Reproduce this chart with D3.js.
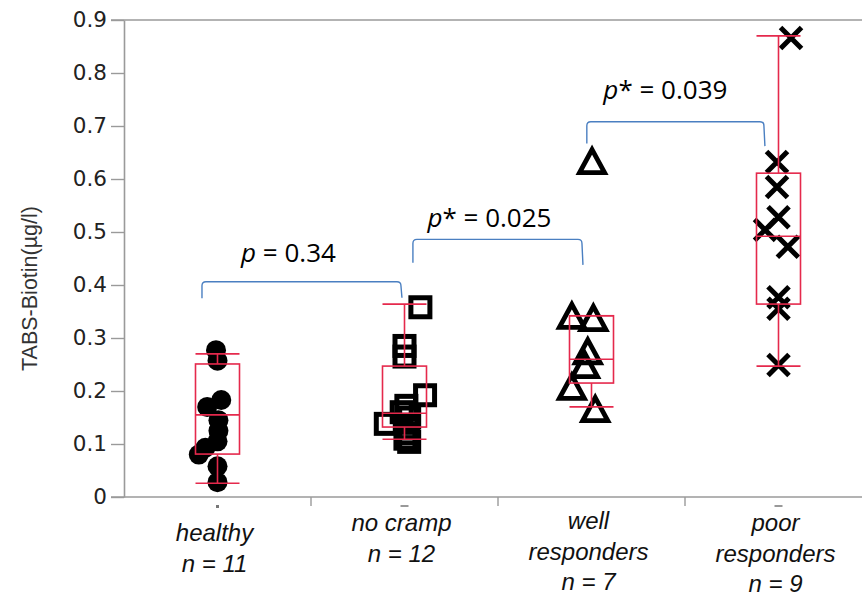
<!DOCTYPE html>
<html>
<head>
<meta charset="utf-8">
<script src="https://cdn.jsdelivr.net/npm/d3@7"></script>
<style>
  body { margin: 0; background: #fff; }
  svg { display: block; }
</style>
</head>
<body>
<svg id="chart" width="862" height="598"></svg>
<script>
// ---- data ----
const categories = ["healthy", "no cramp", "well", "poor"];
const categoryLines = [
  ["healthy", "n = 11"],
  ["no cramp", "n = 12"],
  ["well", "responders", "n = 7"],
  ["poor", "responders", "n = 9"]
];
const markerShapes = ["circle", "square", "triangle", "cross"];

// individual values per group (µg/l)
const healthyValues = [0.277, 0.257, 0.183, 0.170, 0.145, 0.125, 0.105, 0.093, 0.080, 0.058, 0.028];
const noCrampValues = [0.358, 0.285, 0.265, 0.192, 0.172, 0.160, 0.150, 0.138, 0.130, 0.120, 0.110, 0.104];
const wellValues = [0.632, 0.340, 0.336, 0.273, 0.247, 0.206, 0.164];
const poorValues = [0.866, 0.632, 0.585, 0.528, 0.504, 0.472, 0.377, 0.355, 0.249];

// horizontal jitter of each point, as a fraction of the category width
const healthyJitter = [-0.008, 0, 0.02, -0.055, 0.005, 0.005, 0, -0.065, -0.1, 0, 0];
const noCrampJitter = [0.085, 0, 0, 0.11, 0.01, -0.015, 0.025, -0.1, 0.015, 0.02, 0.005, 0.025];
const wellJitter = [0.003, -0.105, 0.01, -0.02, -0.035, -0.105, 0.02];
const poorJitter = [0.067, -0.008, -0.008, 0, -0.072, 0.05, 0, 0, 0];

// box plot statistics
const whiskerLow = [0.026, 0.109, 0.170, 0.247];
const quartile1 = [0.081, 0.132, 0.215, 0.364];
const medians = [0.155, 0.158, 0.260, 0.492];
const quartile3 = [0.251, 0.247, 0.342, 0.611];
const whiskerHigh = [0.270, 0.364, 0.342, 0.870];

// significance brackets
const bracketFrom = ["healthy", "no cramp", "well"];
const bracketTo = ["no cramp", "well", "poor"];
const bracketTop = [0.406, 0.486, 0.708];
const bracketLegLeft = [0.375, 0.442, 0.667];
const bracketLegRight = [0.376, 0.438, 0.662];
const pStar = ["", "*", "*"];
const pValues = ["0.34", "0.025", "0.039"];

const yTicks = [0, 0.1, 0.2, 0.3, 0.4, 0.5, 0.6, 0.7, 0.8, 0.9];

// ---- layout ----
const svg = d3.select("#chart");
const width = 862;
const plotLeft = 124, plotTop = 20, plotBottom = 497;

const x = d3.scaleBand().domain(categories).range([plotLeft, 872]).paddingInner(0).paddingOuter(0);
const y = d3.scaleLinear().domain([0, 0.9]).range([plotBottom, plotTop]);
const bw = x.bandwidth();
const boxW = 44;
const red = "#e5294c";
const blue = "#4a7fc1";

const groups = [
  { cat: "healthy", vals: healthyValues, jit: healthyJitter },
  { cat: "no cramp", vals: noCrampValues, jit: noCrampJitter },
  { cat: "well", vals: wellValues, jit: wellJitter },
  { cat: "poor", vals: poorValues, jit: poorJitter }
];

// Frame: top line and bottom axis line
svg.append("line")
  .attr("x1", 111).attr("x2", width)
  .attr("y1", y(0.9)).attr("y2", y(0.9))
  .attr("stroke", "#9a9a9a").attr("stroke-width", 1.6);

svg.append("line")
  .attr("x1", 111).attr("x2", width)
  .attr("y1", y(0)).attr("y2", y(0))
  .attr("stroke", "#9a9a9a").attr("stroke-width", 1.6);

// Y axis
const yAxis = d3.axisLeft(y)
  .tickValues(yTicks)
  .tickSize(13)
  .tickSizeOuter(0)
  .tickPadding(4)
  .tickFormat(d => d === 0 ? "0" : d3.format(".1f")(d));

const gy = svg.append("g")
  .attr("transform", `translate(${plotLeft},0)`)
  .call(yAxis);
gy.select(".domain").attr("stroke", "#9a9a9a").attr("stroke-width", 1.6);
gy.selectAll(".tick line").attr("stroke", "#9a9a9a").attr("stroke-width", 1.4);
gy.selectAll(".tick text")
  .attr("fill", "#222")
  .attr("font-family", "'DejaVu Sans', Verdana, sans-serif")
  .attr("font-size", 21.5);

// Y title
svg.append("text")
  .attr("transform", `translate(37,${(plotTop + plotBottom) / 2 + 30}) rotate(-90)`)
  .attr("text-anchor", "middle")
  .attr("font-family", "'Liberation Sans', Arial, sans-serif")
  .attr("font-size", 21.5)
  .attr("fill", "#333")
  .text("TABS-Biotin(µg/l)");

// Category separator ticks below the axis
svg.append("g")
  .selectAll("line")
  .data(categories.slice(1))
  .join("line")
    .attr("x1", d => x(d)).attr("x2", d => x(d))
    .attr("y1", plotBottom).attr("y2", plotBottom + 9)
    .attr("stroke", "#9a9a9a").attr("stroke-width", 1.4);

// small stray marks under the axis
svg.append("g")
  .selectAll("line")
  .data(["no cramp", "poor"])
  .join("line")
    .attr("x1", d => x(d) + bw / 2 - 4).attr("x2", d => x(d) + bw / 2 + 4)
    .attr("y1", plotBottom + 9).attr("y2", plotBottom + 9)
    .attr("stroke", "#777").attr("stroke-width", 1.5);
svg.append("rect")
  .attr("x", x("healthy") + bw / 2 - 1.5).attr("y", plotBottom + 8)
  .attr("width", 3).attr("height", 3).attr("fill", "#777");

// Category labels
const catLabel = svg.append("g")
  .attr("font-family", "'Liberation Sans', Arial, sans-serif")
  .attr("font-style", "italic")
  .attr("font-size", 24)
  .attr("fill", "#111")
  .attr("text-anchor", "middle");
const labelBase = [541, 531, 529, 531];
categories.forEach((c, i) => {
  const t = catLabel.append("text")
    .attr("x", x(c) + bw / 2 - 3)
    .attr("y", labelBase[i]);
  categoryLines[i].forEach((ln, j) => {
    t.append("tspan")
      .attr("x", x(c) + bw / 2 - 3)
      .attr("dy", j === 0 ? 0 : 30.5)
      .text(ln);
  });
});

// Points
const pts = svg.append("g");
groups.forEach((g, gi) => {
  const cx = x(g.cat) + bw / 2;
  const shape = markerShapes[gi];
  g.vals.forEach((v, k) => {
    const px = cx + g.jit[k] * bw;
    const py = y(v);
    if (shape === "circle") {
      pts.append("circle").attr("cx", px).attr("cy", py).attr("r", 10).attr("fill", "#000");
    } else if (shape === "square") {
      pts.append("rect")
        .attr("x", px - 9.5).attr("y", py - 9.5).attr("width", 19).attr("height", 19)
        .attr("fill", "none").attr("stroke", "#000").attr("stroke-width", 5);
    } else if (shape === "triangle") {
      const s = 12.5;
      pts.append("path")
        .attr("d", `M${px},${py - s}L${px + s},${py + s * 0.85}L${px - s},${py + s * 0.85}Z`)
        .attr("fill", "none").attr("stroke", "#000").attr("stroke-width", 4.8)
        .attr("stroke-linejoin", "miter");
    } else {
      const s = 10.5;
      pts.append("path")
        .attr("d", `M${px - s},${py - s}L${px + s},${py + s}M${px + s},${py - s}L${px - s},${py + s}`)
        .attr("fill", "none").attr("stroke", "#000").attr("stroke-width", 5);
    }
  });
});

// Boxes
const boxes = svg.append("g")
  .attr("stroke", red).attr("stroke-width", 1.6).attr("fill", "none");
categories.forEach((c, i) => {
  const cx = x(c) + bw / 2;
  boxes.append("rect")
    .attr("x", cx - boxW / 2).attr("y", y(quartile3[i]))
    .attr("width", boxW).attr("height", y(quartile1[i]) - y(quartile3[i]));
  boxes.append("line")
    .attr("x1", cx - boxW / 2).attr("x2", cx + boxW / 2)
    .attr("y1", y(medians[i])).attr("y2", y(medians[i]));
  // whiskers
  boxes.append("line")
    .attr("x1", cx).attr("x2", cx)
    .attr("y1", y(quartile3[i])).attr("y2", y(whiskerHigh[i]));
  boxes.append("line")
    .attr("x1", cx).attr("x2", cx)
    .attr("y1", y(quartile1[i])).attr("y2", y(whiskerLow[i]));
  boxes.append("line")
    .attr("x1", cx - boxW / 2).attr("x2", cx + boxW / 2)
    .attr("y1", y(whiskerHigh[i])).attr("y2", y(whiskerHigh[i]));
  boxes.append("line")
    .attr("x1", cx - boxW / 2).attr("x2", cx + boxW / 2)
    .attr("y1", y(whiskerLow[i])).attr("y2", y(whiskerLow[i]));
});

// Significance brackets
const legOffsetL = [-0.083, 0.045, -0.025];   // fraction of band width from centre
const legOffsetR = [-0.019, -0.051, -0.078];
const labelShift = [-13, -8, -10];
const labelRise = [20, 12, 23];
const br = svg.append("g");
bracketFrom.forEach((f, i) => {
  const x1 = x(f) + bw / 2 + legOffsetL[i] * bw;
  const x2 = x(bracketTo[i]) + bw / 2 + legOffsetR[i] * bw;
  const yt = y(bracketTop[i]);
  const r = 4;
  const path = d3.path();
  path.moveTo(x1, y(bracketLegLeft[i]));
  path.lineTo(x1, yt + r);
  path.quadraticCurveTo(x1, yt, x1 + r, yt);
  path.lineTo(x2 - r, yt);
  path.quadraticCurveTo(x2, yt, x2, yt + r);
  path.lineTo(x2 + 1, y(bracketLegRight[i]));
  br.append("path")
    .attr("d", path.toString())
    .attr("fill", "none").attr("stroke", blue).attr("stroke-width", 1.4);

  const t = br.append("text")
    .attr("x", (x1 + x2) / 2 + labelShift[i])
    .attr("y", yt - labelRise[i])
    .attr("text-anchor", "middle")
    .attr("font-family", "'Open Sans', sans-serif")
    .attr("font-size", 26)
    .attr("fill", "#000");
  t.append("tspan").attr("font-style", "italic").text("p");
  t.append("tspan").text(pStar[i] + " = " + pValues[i]);
});
</script>
</body>
</html>
